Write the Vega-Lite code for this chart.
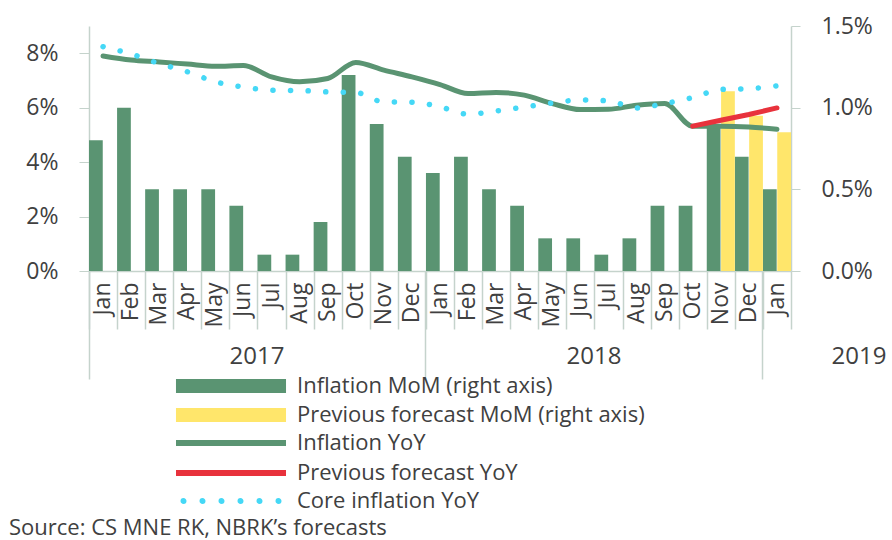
{
  "$schema": "https://vega.github.io/schema/vega-lite/v6.json",
  "width": 702,
  "height": 245,
  "autosize": "none",
  "padding": {"left": 89, "top": 26, "right": 101, "bottom": 269},
  "background": "white",
  "config": {
    "font": "Open Sans",
    "view": {"stroke": null},
    "axis": {"labelFont": "Open Sans", "labelColor": "#404040", "domainColor": "#c5d3cc", "tickColor": "#c5d3cc", "grid": false, "title": null},
    "legend": {"labelFont": "Open Sans", "labelColor": "#404040", "labelFontSize": 22, "labelLimit": 700, "title": null, "orient": "none", "direction": "vertical", "rowPadding": 4}
  },
  "title": {
    "text": "Source: CS MNE RK, NBRK\u2019s forecasts",
    "orient": "bottom",
    "anchor": "start",
    "frame": "group",
    "offset": 6,
    "dx": -80,
    "font": "Open Sans",
    "fontSize": 22,
    "fontWeight": "normal",
    "color": "#404040"
  },
  "datasets": {
    "mom": [
      {"month": "Jan 2017", "series": "Inflation MoM (right axis)", "value": 0.8},
      {"month": "Feb 2017", "series": "Inflation MoM (right axis)", "value": 1.0},
      {"month": "Mar 2017", "series": "Inflation MoM (right axis)", "value": 0.5},
      {"month": "Apr 2017", "series": "Inflation MoM (right axis)", "value": 0.5},
      {"month": "May 2017", "series": "Inflation MoM (right axis)", "value": 0.5},
      {"month": "Jun 2017", "series": "Inflation MoM (right axis)", "value": 0.4},
      {"month": "Jul 2017", "series": "Inflation MoM (right axis)", "value": 0.1},
      {"month": "Aug 2017", "series": "Inflation MoM (right axis)", "value": 0.1},
      {"month": "Sep 2017", "series": "Inflation MoM (right axis)", "value": 0.3},
      {"month": "Oct 2017", "series": "Inflation MoM (right axis)", "value": 1.2},
      {"month": "Nov 2017", "series": "Inflation MoM (right axis)", "value": 0.9},
      {"month": "Dec 2017", "series": "Inflation MoM (right axis)", "value": 0.7},
      {"month": "Jan 2018", "series": "Inflation MoM (right axis)", "value": 0.6},
      {"month": "Feb 2018", "series": "Inflation MoM (right axis)", "value": 0.7},
      {"month": "Mar 2018", "series": "Inflation MoM (right axis)", "value": 0.5},
      {"month": "Apr 2018", "series": "Inflation MoM (right axis)", "value": 0.4},
      {"month": "May 2018", "series": "Inflation MoM (right axis)", "value": 0.2},
      {"month": "Jun 2018", "series": "Inflation MoM (right axis)", "value": 0.2},
      {"month": "Jul 2018", "series": "Inflation MoM (right axis)", "value": 0.1},
      {"month": "Aug 2018", "series": "Inflation MoM (right axis)", "value": 0.2},
      {"month": "Sep 2018", "series": "Inflation MoM (right axis)", "value": 0.4},
      {"month": "Oct 2018", "series": "Inflation MoM (right axis)", "value": 0.4},
      {"month": "Nov 2018", "series": "Inflation MoM (right axis)", "value": 0.9},
      {"month": "Dec 2018", "series": "Inflation MoM (right axis)", "value": 0.7},
      {"month": "Jan 2019", "series": "Inflation MoM (right axis)", "value": 0.5},
      {"month": "Nov 2018", "series": "Previous forecast MoM (right axis)", "value": 1.1},
      {"month": "Dec 2018", "series": "Previous forecast MoM (right axis)", "value": 0.95},
      {"month": "Jan 2019", "series": "Previous forecast MoM (right axis)", "value": 0.85}
    ],
    "yoy": [
      {"month": "Jan 2017", "series": "Inflation YoY", "value": 7.9},
      {"month": "Feb 2017", "series": "Inflation YoY", "value": 7.75},
      {"month": "Mar 2017", "series": "Inflation YoY", "value": 7.68},
      {"month": "Apr 2017", "series": "Inflation YoY", "value": 7.6},
      {"month": "May 2017", "series": "Inflation YoY", "value": 7.52},
      {"month": "Jun 2017", "series": "Inflation YoY", "value": 7.55},
      {"month": "Jul 2017", "series": "Inflation YoY", "value": 7.13},
      {"month": "Aug 2017", "series": "Inflation YoY", "value": 6.95},
      {"month": "Sep 2017", "series": "Inflation YoY", "value": 7.07},
      {"month": "Oct 2017", "series": "Inflation YoY", "value": 7.66},
      {"month": "Nov 2017", "series": "Inflation YoY", "value": 7.38},
      {"month": "Dec 2017", "series": "Inflation YoY", "value": 7.13},
      {"month": "Jan 2018", "series": "Inflation YoY", "value": 6.85},
      {"month": "Feb 2018", "series": "Inflation YoY", "value": 6.52},
      {"month": "Mar 2018", "series": "Inflation YoY", "value": 6.56},
      {"month": "Apr 2018", "series": "Inflation YoY", "value": 6.46},
      {"month": "May 2018", "series": "Inflation YoY", "value": 6.15},
      {"month": "Jun 2018", "series": "Inflation YoY", "value": 5.93},
      {"month": "Jul 2018", "series": "Inflation YoY", "value": 5.94},
      {"month": "Aug 2018", "series": "Inflation YoY", "value": 6.09},
      {"month": "Sep 2018", "series": "Inflation YoY", "value": 6.15},
      {"month": "Oct 2018", "series": "Inflation YoY", "value": 5.32},
      {"month": "Nov 2018", "series": "Inflation YoY", "value": 5.32},
      {"month": "Dec 2018", "series": "Inflation YoY", "value": 5.29},
      {"month": "Jan 2019", "series": "Inflation YoY", "value": 5.21}
    ],
    "fyoy": [
      {"month": "Oct 2018", "series": "Previous forecast YoY", "value": 5.32},
      {"month": "Nov 2018", "series": "Previous forecast YoY", "value": 5.54},
      {"month": "Dec 2018", "series": "Previous forecast YoY", "value": 5.75},
      {"month": "Jan 2019", "series": "Previous forecast YoY", "value": 5.99}
    ],
    "core": [
      {"month": "Jan 2017", "series": "Core inflation YoY", "value": 8.24},
      {"month": "Feb 2017", "series": "Core inflation YoY", "value": 7.97},
      {"month": "Mar 2017", "series": "Core inflation YoY", "value": 7.62},
      {"month": "Apr 2017", "series": "Core inflation YoY", "value": 7.32},
      {"month": "May 2017", "series": "Core inflation YoY", "value": 6.95},
      {"month": "Jun 2017", "series": "Core inflation YoY", "value": 6.76},
      {"month": "Jul 2017", "series": "Core inflation YoY", "value": 6.64},
      {"month": "Aug 2017", "series": "Core inflation YoY", "value": 6.63},
      {"month": "Sep 2017", "series": "Core inflation YoY", "value": 6.58},
      {"month": "Oct 2017", "series": "Core inflation YoY", "value": 6.56},
      {"month": "Nov 2017", "series": "Core inflation YoY", "value": 6.21},
      {"month": "Dec 2017", "series": "Core inflation YoY", "value": 6.2},
      {"month": "Jan 2018", "series": "Core inflation YoY", "value": 6.03},
      {"month": "Feb 2018", "series": "Core inflation YoY", "value": 5.76},
      {"month": "Mar 2018", "series": "Core inflation YoY", "value": 5.88},
      {"month": "Apr 2018", "series": "Core inflation YoY", "value": 6.02},
      {"month": "May 2018", "series": "Core inflation YoY", "value": 6.17},
      {"month": "Jun 2018", "series": "Core inflation YoY", "value": 6.28},
      {"month": "Jul 2018", "series": "Core inflation YoY", "value": 6.25},
      {"month": "Aug 2018", "series": "Core inflation YoY", "value": 5.99},
      {"month": "Sep 2018", "series": "Core inflation YoY", "value": 6.15},
      {"month": "Oct 2018", "series": "Core inflation YoY", "value": 6.37},
      {"month": "Nov 2018", "series": "Core inflation YoY", "value": 6.67},
      {"month": "Dec 2018", "series": "Core inflation YoY", "value": 6.7},
      {"month": "Jan 2019", "series": "Core inflation YoY", "value": 6.8}
    ]
  },
  "resolve": {
    "scale": {"y": "independent"},
    "axis": {"x": "independent", "y": "independent"}
  },
  "layer": [
    {
      "data": {"name": "mom"},
      "mark": {"type": "bar"},
      "encoding": {
        "x": {
          "field": "month", "type": "ordinal",
          "scale": {"type": "band", "domain": ["Jan 2017","Feb 2017","Mar 2017","Apr 2017","May 2017","Jun 2017","Jul 2017","Aug 2017","Sep 2017","Oct 2017","Nov 2017","Dec 2017","Jan 2018","Feb 2018","Mar 2018","Apr 2018","May 2018","Jun 2018","Jul 2018","Aug 2018","Sep 2018","Oct 2018","Nov 2018","Dec 2018","Jan 2019"], "paddingInner": 0, "paddingOuter": 0},
          "axis": {"orient": "bottom", "labelExpr": "slice(datum.label, 0, 3)", "labelAngle": 270, "labelFontSize": 23, "labelPadding": 11, "ticks": false, "domain": true, "domainWidth": 1.5}
        },
        "xOffset": {"field": "series", "type": "nominal", "scale": {"domain": ["Inflation MoM (right axis)", "Previous forecast MoM (right axis)"], "paddingInner": 0.04, "paddingOuter": 0}},
        "y": {
          "field": "value", "type": "quantitative",
          "scale": {"domain": [0, 1.5], "nice": false, "zero": true},
          "axis": {"orient": "right", "values": [0, 0.5, 1, 1.5], "labelExpr": "format(datum.value, '.1f') + '%'", "labelFontSize": 23, "tickSize": 9, "labelPadding": 21, "domainWidth": 1.5}
        },
        "fill": {
          "field": "series", "type": "nominal",
          "scale": {"domain": ["Inflation MoM (right axis)", "Previous forecast MoM (right axis)"], "range": ["#5a9472", "#ffe66b"]},
          "legend": {
            "legendX": 87, "legendY": 346,
            "symbolType": "M-3.93,-0.5H3.93V0.5H-3.93Z", "symbolSize": 784, "symbolStrokeWidth": 0,
            "symbolOffset": 41, "labelOffset": 52
          }
        }
      }
    },
    {
      "data": {"name": "yoy"},
      "mark": {"type": "line", "interpolate": "monotone", "strokeWidth": 5, "strokeCap": "round"},
      "encoding": {
        "x": {"field": "month", "type": "ordinal", "axis": {"orient": "bottom", "labels": false, "domain": false, "ticks": true, "tickBand": "extent", "tickSize": 58, "tickWidth": 1.5}},
        "y": {"field": "value", "type": "quantitative", "scale": {"domain": [0, 9], "nice": false},
          "axis": {"orient": "left", "values": [0, 2, 4, 6, 8], "labelExpr": "datum.value + '%'", "labelFontSize": 23, "tickSize": 10, "labelPadding": 21, "domainWidth": 1.5}},
        "stroke": {
          "field": "series", "type": "nominal",
          "scale": {"domain": ["Inflation YoY", "Previous forecast YoY"], "range": ["#5a9472", "#e8323c"]},
          "legend": {
            "legendX": 87, "legendY": 403,
            "symbolType": "M-5,0H5", "symbolSize": 484, "symbolStrokeWidth": 6,
            "symbolOffset": 41, "labelOffset": 52
          }
        }
      }
    },
    {
      "data": {"name": "fyoy"},
      "mark": {"type": "line", "strokeWidth": 5, "strokeCap": "round"},
      "encoding": {
        "x": {"field": "month", "type": "ordinal", "axis": {"orient": "bottom", "values": ["Jan 2017", "Jan 2018", "Jan 2019"], "labelExpr": "slice(datum.label, 4)", "labelAngle": 0, "labelFontSize": 24, "labelBaseline": "top", "labelPadding": -35, "labelOffset": {"condition": {"test": "datum.value == 'Jan 2019'", "value": 82}, "value": 154}, "domain": false, "ticks": true, "bandPosition": 0, "tickExtra": false, "tickSize": 108, "tickWidth": 1.5}},
        "y": {"field": "value", "type": "quantitative", "scale": {"domain": [0, 9], "nice": false}, "axis": null},
        "stroke": {"field": "series", "type": "nominal"}
      }
    },
    {
      "data": {"name": "core"},
      "mark": {"type": "line", "interpolate": "monotone", "strokeWidth": 5.5, "strokeCap": "round", "strokeDash": [0.1, 17.5], "stroke": "#45d8f6"},
      "encoding": {
        "x": {"field": "month", "type": "ordinal", "axis": null},
        "y": {"field": "value", "type": "quantitative", "scale": {"domain": [0, 9], "nice": false}, "axis": null},
        "opacity": {
          "field": "series", "type": "nominal",
          "scale": {"domain": ["Core inflation YoY"], "range": [1]},
          "legend": {
            "legendX": 87, "legendY": 461,
            "symbolType": "M-3.92,0a0.12,0.12 0 1,0 0.24,0a0.12,0.12 0 1,0 -0.24,0M-2.4,0a0.12,0.12 0 1,0 0.24,0a0.12,0.12 0 1,0 -0.24,0M-0.88,0a0.12,0.12 0 1,0 0.24,0a0.12,0.12 0 1,0 -0.24,0M0.64,0a0.12,0.12 0 1,0 0.24,0a0.12,0.12 0 1,0 -0.24,0M2.16,0a0.12,0.12 0 1,0 0.24,0a0.12,0.12 0 1,0 -0.24,0M3.68,0a0.12,0.12 0 1,0 0.24,0a0.12,0.12 0 1,0 -0.24,0",
            "symbolSize": 625, "symbolStrokeWidth": 3, "symbolStrokeColor": "#45d8f6", "symbolFillColor": "#45d8f6",
            "symbolOffset": 41, "labelOffset": 52
          }
        }
      }
    }
  ]
}
